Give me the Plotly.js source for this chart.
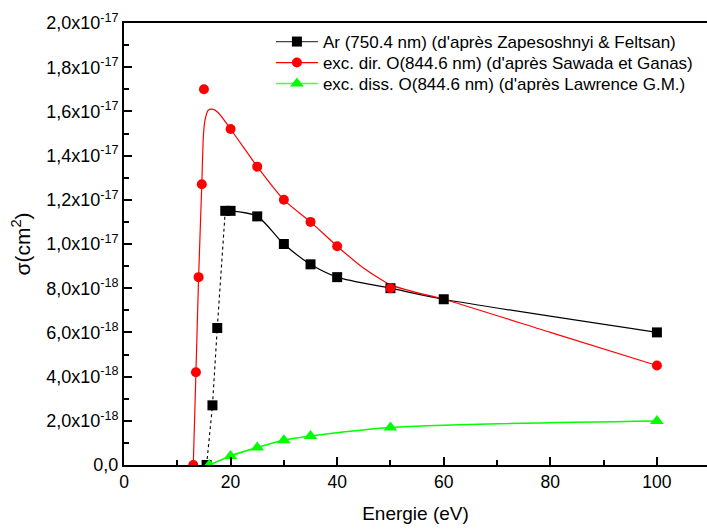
<!DOCTYPE html>
<html>
<head>
<meta charset="utf-8">
<script src="https://cdn.plot.ly/plotly-3.0.1.min.js"></script>
<style>html,body{margin:0;padding:0;background:#fff;}#chart{width:707px;height:530px;}</style>
</head>
<body>
<div id="chart"></div>
<script>
// Ar (750.4 nm) — Zapesoshnyi & Feltsan
var arX = [15.5, 16.6, 17.5, 19, 20, 25, 30, 35, 40, 50, 60, 100];
var arY = [0, 2.7e-18, 6.2e-18, 11.5e-18, 11.5e-18, 11.25e-18, 10.0e-18, 9.08e-18, 8.5e-18, 8.0e-18, 7.5e-18, 6.0e-18];
// dotted rising part and solid part of the Ar curve
var arDotX = [15.5, 16.6, 17.5, 19];
var arDotY = [0, 2.7e-18, 6.2e-18, 11.5e-18];
var arSolidX = [19, 20, 25, 30, 35, 40, 50, 60, 100];
var arSolidY = [11.5e-18, 11.5e-18, 11.25e-18, 10.0e-18, 9.08e-18, 8.5e-18, 8.0e-18, 7.5e-18, 6.0e-18];

// exc. dir. O (844.6 nm) — Sawada et Ganas
var dirX = [13, 13.5, 14, 14.6, 15, 20, 25, 30, 35, 40, 50, 100];
var dirY = [0, 4.2e-18, 8.5e-18, 12.7e-18, 17.0e-18, 15.2e-18, 13.5e-18, 12.0e-18, 11.0e-18, 9.9e-18, 8.0e-18, 4.5e-18];
// fitted curve drawn through the data
var dirFitX = [13, 13.5, 14, 14.6, 14.9, 15.2, 15.8, 16.6, 17.7, 20, 22.5, 25, 30, 35, 40, 45, 50, 55, 60, 80, 100];
var dirFitY = [0, 4.2e-18, 8.5e-18, 12.7e-18, 14.9e-18, 15.6e-18, 16.05e-18, 16.1e-18, 15.94e-18, 15.2e-18, 14.35e-18, 13.5e-18, 12.0e-18, 11.0e-18, 9.9e-18, 8.9e-18, 8.15e-18, 7.8e-18, 7.5e-18, 6.0e-18, 4.5e-18];

// exc. diss. O (844.6 nm) — Lawrence G.M.
var dissX = [16, 20, 25, 30, 35, 50, 100];
var dissY = [0, 0.41e-18, 0.79e-18, 1.12e-18, 1.31e-18, 1.70e-18, 1.99e-18];

var yTickVals = [0, 2e-18, 4e-18, 6e-18, 8e-18, 1e-17, 1.2e-17, 1.4e-17, 1.6e-17, 1.8e-17, 2e-17];
var yTickText = ["0,0", "2,0x10<sup>-18</sup>", "4,0x10<sup>-18</sup>", "6,0x10<sup>-18</sup>", "8,0x10<sup>-18</sup>",
  "1,0x10<sup>-17</sup>", "1,2x10<sup>-17</sup>", "1,4x10<sup>-17</sup>", "1,6x10<sup>-17</sup>", "1,8x10<sup>-17</sup>", "2,0x10<sup>-17</sup>"];
var xTickVals = [0, 20, 40, 60, 80, 100];
var xTickText = ["0", "20", "40", "60", "80", "100"];

var legendNames = ["Ar (750.4 nm) (d'après Zapesoshnyi & Feltsan)",
  "exc. dir. O(844.6 nm) (d'après Sawada et Ganas)",
  "exc. diss. O(844.6 nm) (d'après Lawrence G.M.)"];

var traces = [
  {x: arDotX, y: arDotY, mode: 'lines', line: {color: '#000', width: 1.1, dash: 'dot'}, showlegend: false, hoverinfo: 'skip'},
  {x: arSolidX, y: arSolidY, mode: 'lines', line: {color: '#000', width: 1.2, shape: 'spline', smoothing: 0.8}, showlegend: false, hoverinfo: 'skip'},
  {x: dirFitX, y: dirFitY, mode: 'lines', line: {color: '#ff0000', width: 1.2, shape: 'spline', smoothing: 0.6}, showlegend: false, hoverinfo: 'skip'},
  {x: dissX, y: dissY, mode: 'lines', line: {color: '#00ff00', width: 1.5, shape: 'spline', smoothing: 0.8}, showlegend: false, hoverinfo: 'skip'},
  {x: arX, y: arY, mode: 'markers', marker: {symbol: 'square', size: 10, color: '#000'}, showlegend: false},
  {x: dirX, y: dirY, mode: 'markers', marker: {symbol: 'circle', size: 10, color: '#ff0000'}, showlegend: false},
  {x: dissX, y: dissY, mode: 'markers', marker: {symbol: 'triangle-up', size: 12, color: '#00ff00'}, showlegend: false},
  // legend entries (one legend box per row to match the row spacing)
  {x: [null], y: [null], name: legendNames[0], legend: 'legend', mode: 'lines+markers', line: {color: '#444', width: 1.2}, marker: {symbol: 'square', size: 10, color: '#000'}},
  {x: [null], y: [null], name: legendNames[1], legend: 'legend2', mode: 'lines+markers', line: {color: '#ff0000', width: 1.2}, marker: {symbol: 'circle', size: 10, color: '#ff0000'}},
  {x: [null], y: [null], name: legendNames[2], legend: 'legend3', mode: 'lines+markers', line: {color: '#44ff44', width: 1.5}, marker: {symbol: 'triangle-up', size: 12, color: '#00ff00'}}
];

var fontFam = '"Liberation Sans", Arial, sans-serif';
function legendAt(yv) {
  return {x: 0.252, y: yv, xanchor: 'left', yanchor: 'middle', bgcolor: 'rgba(0,0,0,0)',
    font: {family: fontFam, size: 17, color: '#000'}, tracegroupgap: 0, itemwidth: 42};
}
var layout = {
  width: 707, height: 530,
  margin: {l: 124, r: 0, t: 23, b: 65},
  paper_bgcolor: '#fff', plot_bgcolor: '#fff',
  font: {family: fontFam, color: '#000', size: 17},
  showlegend: true,
  legend: legendAt(0.957),
  legend2: legendAt(0.9095),
  legend3: legendAt(0.862),
  xaxis: {
    range: [0, 109.4], showgrid: false, zeroline: false,
    showline: true, linecolor: '#000', linewidth: 2, mirror: true,
    ticks: 'inside', ticklen: 8, tickwidth: 2, tickcolor: '#000',
    tickvals: xTickVals, ticktext: xTickText,
    tickfont: {family: fontFam, size: 17.5},
    minor: {ticks: 'inside', ticklen: 5, tickwidth: 2, tickcolor: '#000', dtick: 10, tick0: 0, showgrid: false},
    title: {text: 'Energie (eV)', font: {family: fontFam, size: 19}, standoff: 16}
  },
  yaxis: {
    range: [0, 2e-17], showgrid: false, zeroline: false,
    showline: true, linecolor: '#000', linewidth: 2,
    ticks: 'inside', ticklen: 8, tickwidth: 2, tickcolor: '#000',
    tickvals: yTickVals, ticktext: yTickText,
    tickfont: {family: fontFam, size: 18},
    minor: {ticks: 'inside', ticklen: 5, tickwidth: 2, tickcolor: '#000', dtick: 1e-18, tick0: 0, showgrid: false},
    title: {text: 'σ(cm<sup>2</sup>)', font: {family: fontFam, size: 21}, standoff: 10}
  }
};

Plotly.newPlot('chart', traces, layout, {displayModeBar: false, staticPlot: true});
</script>
</body>
</html>
